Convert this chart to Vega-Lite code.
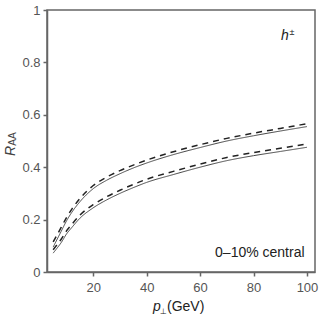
{
  "$schema": "https://vega.github.io/schema/vega-lite/v6.json",
  "autosize": "none",
  "width": 268,
  "height": 262,
  "padding": {"left": 47, "top": 10, "right": 4, "bottom": 47},
  "background": "white",
  "config": {
    "view": {"stroke": "#666", "strokeWidth": 1.5},
    "font": "Liberation Sans",
    "axis": {
      "domainColor": "#666", "domainWidth": 1.5,
      "tickColor": "#666", "tickWidth": 1.5, "tickSize": 4,
      "labelColor": "#555", "labelFont": "Liberation Sans", "labelFontSize": 13,
      "grid": false, "title": null
    }
  },
  "datasets": {
    "curves": [
      {"curve": "A", "style": "solid", "pT": 5, "RAA": 0.095},
      {"curve": "A", "style": "solid", "pT": 6, "RAA": 0.115},
      {"curve": "A", "style": "solid", "pT": 8, "RAA": 0.155},
      {"curve": "A", "style": "solid", "pT": 10, "RAA": 0.195},
      {"curve": "A", "style": "solid", "pT": 12, "RAA": 0.228},
      {"curve": "A", "style": "solid", "pT": 15, "RAA": 0.268},
      {"curve": "A", "style": "solid", "pT": 20, "RAA": 0.318},
      {"curve": "A", "style": "solid", "pT": 25, "RAA": 0.350},
      {"curve": "A", "style": "solid", "pT": 30, "RAA": 0.375},
      {"curve": "A", "style": "solid", "pT": 35, "RAA": 0.397},
      {"curve": "A", "style": "solid", "pT": 40, "RAA": 0.416},
      {"curve": "A", "style": "solid", "pT": 50, "RAA": 0.448},
      {"curve": "A", "style": "solid", "pT": 60, "RAA": 0.475},
      {"curve": "A", "style": "solid", "pT": 70, "RAA": 0.500},
      {"curve": "A", "style": "solid", "pT": 80, "RAA": 0.520},
      {"curve": "A", "style": "solid", "pT": 90, "RAA": 0.538},
      {"curve": "A", "style": "solid", "pT": 100, "RAA": 0.555},
      {"curve": "B", "style": "dashed", "pT": 5, "RAA": 0.115},
      {"curve": "B", "style": "dashed", "pT": 6, "RAA": 0.133},
      {"curve": "B", "style": "dashed", "pT": 8, "RAA": 0.170},
      {"curve": "B", "style": "dashed", "pT": 10, "RAA": 0.208},
      {"curve": "B", "style": "dashed", "pT": 12, "RAA": 0.240},
      {"curve": "B", "style": "dashed", "pT": 15, "RAA": 0.280},
      {"curve": "B", "style": "dashed", "pT": 20, "RAA": 0.330},
      {"curve": "B", "style": "dashed", "pT": 25, "RAA": 0.362},
      {"curve": "B", "style": "dashed", "pT": 30, "RAA": 0.387},
      {"curve": "B", "style": "dashed", "pT": 35, "RAA": 0.408},
      {"curve": "B", "style": "dashed", "pT": 40, "RAA": 0.427},
      {"curve": "B", "style": "dashed", "pT": 50, "RAA": 0.459},
      {"curve": "B", "style": "dashed", "pT": 60, "RAA": 0.486},
      {"curve": "B", "style": "dashed", "pT": 70, "RAA": 0.510},
      {"curve": "B", "style": "dashed", "pT": 80, "RAA": 0.530},
      {"curve": "B", "style": "dashed", "pT": 90, "RAA": 0.548},
      {"curve": "B", "style": "dashed", "pT": 100, "RAA": 0.566},
      {"curve": "C", "style": "solid", "pT": 5, "RAA": 0.072},
      {"curve": "C", "style": "solid", "pT": 6, "RAA": 0.085},
      {"curve": "C", "style": "solid", "pT": 8, "RAA": 0.112},
      {"curve": "C", "style": "solid", "pT": 10, "RAA": 0.145},
      {"curve": "C", "style": "solid", "pT": 12, "RAA": 0.170},
      {"curve": "C", "style": "solid", "pT": 15, "RAA": 0.205},
      {"curve": "C", "style": "solid", "pT": 20, "RAA": 0.245},
      {"curve": "C", "style": "solid", "pT": 25, "RAA": 0.275},
      {"curve": "C", "style": "solid", "pT": 30, "RAA": 0.300},
      {"curve": "C", "style": "solid", "pT": 35, "RAA": 0.322},
      {"curve": "C", "style": "solid", "pT": 40, "RAA": 0.342},
      {"curve": "C", "style": "solid", "pT": 50, "RAA": 0.372},
      {"curve": "C", "style": "solid", "pT": 60, "RAA": 0.400},
      {"curve": "C", "style": "solid", "pT": 70, "RAA": 0.425},
      {"curve": "C", "style": "solid", "pT": 80, "RAA": 0.444},
      {"curve": "C", "style": "solid", "pT": 90, "RAA": 0.460},
      {"curve": "C", "style": "solid", "pT": 100, "RAA": 0.476},
      {"curve": "D", "style": "dashed", "pT": 5, "RAA": 0.085},
      {"curve": "D", "style": "dashed", "pT": 6, "RAA": 0.098},
      {"curve": "D", "style": "dashed", "pT": 8, "RAA": 0.125},
      {"curve": "D", "style": "dashed", "pT": 10, "RAA": 0.157},
      {"curve": "D", "style": "dashed", "pT": 12, "RAA": 0.182},
      {"curve": "D", "style": "dashed", "pT": 15, "RAA": 0.217},
      {"curve": "D", "style": "dashed", "pT": 20, "RAA": 0.257},
      {"curve": "D", "style": "dashed", "pT": 25, "RAA": 0.287},
      {"curve": "D", "style": "dashed", "pT": 30, "RAA": 0.312},
      {"curve": "D", "style": "dashed", "pT": 35, "RAA": 0.334},
      {"curve": "D", "style": "dashed", "pT": 40, "RAA": 0.354},
      {"curve": "D", "style": "dashed", "pT": 50, "RAA": 0.384},
      {"curve": "D", "style": "dashed", "pT": 60, "RAA": 0.412},
      {"curve": "D", "style": "dashed", "pT": 70, "RAA": 0.437},
      {"curve": "D", "style": "dashed", "pT": 80, "RAA": 0.456},
      {"curve": "D", "style": "dashed", "pT": 90, "RAA": 0.472},
      {"curve": "D", "style": "dashed", "pT": 100, "RAA": 0.489}
    ],
    "labels": [
      {"key": "central", "txt": "0–10% central"},
      {"key": "h", "txt": "h"},
      {"key": "pm", "txt": "±"},
      {"key": "R", "txt": "R"},
      {"key": "AA", "txt": "AA"},
      {"key": "p", "txt": "p"},
      {"key": "perp", "txt": "⊥"},
      {"key": "gev", "txt": "(GeV)"}
    ]
  },
  "layer": [
    {
      "data": {"name": "curves"},
      "mark": {"type": "line", "interpolate": "monotone"},
      "encoding": {
        "x": {"field": "pT", "type": "quantitative",
              "scale": {"domain": [2.7, 103], "nice": false, "zero": false},
              "axis": {"values": [20, 40, 60, 80, 100], "labelPadding": 5}},
        "y": {"field": "RAA", "type": "quantitative",
              "scale": {"domain": [0, 1], "nice": false},
              "axis": {"values": [0, 0.2, 0.4, 0.6, 0.8, 1], "format": "~g", "labelPadding": 3}},
        "detail": {"field": "curve"},
        "color": {"field": "style", "type": "nominal", "legend": null,
                  "scale": {"domain": ["solid", "dashed"], "range": ["#444444", "#222222"]}},
        "strokeDash": {"field": "style", "type": "nominal", "legend": null,
                  "scale": {"domain": ["solid", "dashed"], "range": [[1, 0], [6, 5]]}},
        "strokeWidth": {"field": "style", "type": "nominal", "legend": null,
                  "scale": {"domain": ["solid", "dashed"], "range": [1, 1.5]}}
      }
    },
    {
      "data": {"name": "labels"},
      "transform": [{"filter": "datum.key == 'central'"}],
      "mark": {"type": "text", "align": "right", "baseline": "alphabetic", "fontSize": 14, "color": "#222", "font": "Liberation Sans"},
      "encoding": {"x": {"datum": 99.1}, "y": {"datum": 0.057}, "text": {"field": "txt"}}
    },
    {
      "data": {"name": "labels"},
      "transform": [{"filter": "datum.key == 'h'"}],
      "mark": {"type": "text", "align": "left", "baseline": "alphabetic", "fontSize": 14, "fontStyle": "italic", "color": "#222", "font": "Liberation Sans"},
      "encoding": {"x": {"datum": 90.3}, "y": {"datum": 0.885}, "text": {"field": "txt"}}
    },
    {
      "data": {"name": "labels"},
      "transform": [{"filter": "datum.key == 'pm'"}],
      "mark": {"type": "text", "align": "left", "baseline": "alphabetic", "fontSize": 9, "color": "#222", "font": "Liberation Sans"},
      "encoding": {"x": {"datum": 93.5}, "y": {"datum": 0.905}, "text": {"field": "txt"}}
    },
    {
      "data": {"name": "labels"},
      "transform": [{"filter": "datum.key == 'R'"}],
      "mark": {"type": "text", "align": "left", "baseline": "alphabetic", "angle": 270, "fontSize": 14, "fontStyle": "italic", "color": "#444", "font": "Liberation Sans"},
      "encoding": {"x": {"datum": -9.3}, "y": {"datum": 0.443}, "text": {"field": "txt"}}
    },
    {
      "data": {"name": "labels"},
      "transform": [{"filter": "datum.key == 'AA'"}],
      "mark": {"type": "text", "align": "left", "baseline": "alphabetic", "angle": 270, "fontSize": 10, "color": "#444", "font": "Liberation Sans"},
      "encoding": {"x": {"datum": -8.9}, "y": {"datum": 0.482}, "text": {"field": "txt"}}
    },
    {
      "data": {"name": "labels"},
      "transform": [{"filter": "datum.key == 'p'"}],
      "mark": {"type": "text", "align": "left", "baseline": "alphabetic", "fontSize": 14, "fontStyle": "italic", "color": "#222", "font": "Liberation Sans"},
      "encoding": {"x": {"datum": 42.4}, "y": {"datum": -0.15}, "text": {"field": "txt"}}
    },
    {
      "data": {"name": "labels"},
      "transform": [{"filter": "datum.key == 'perp'"}],
      "mark": {"type": "text", "align": "left", "baseline": "alphabetic", "fontSize": 8, "color": "#222", "font": "DejaVu Sans"},
      "encoding": {"x": {"datum": 45.0}, "y": {"datum": -0.162}, "text": {"field": "txt"}}
    },
    {
      "data": {"name": "labels"},
      "transform": [{"filter": "datum.key == 'gev'"}],
      "mark": {"type": "text", "align": "left", "baseline": "alphabetic", "fontSize": 14, "color": "#222", "font": "Liberation Sans"},
      "encoding": {"x": {"datum": 47.6}, "y": {"datum": -0.15}, "text": {"field": "txt"}}
    }
  ]
}
